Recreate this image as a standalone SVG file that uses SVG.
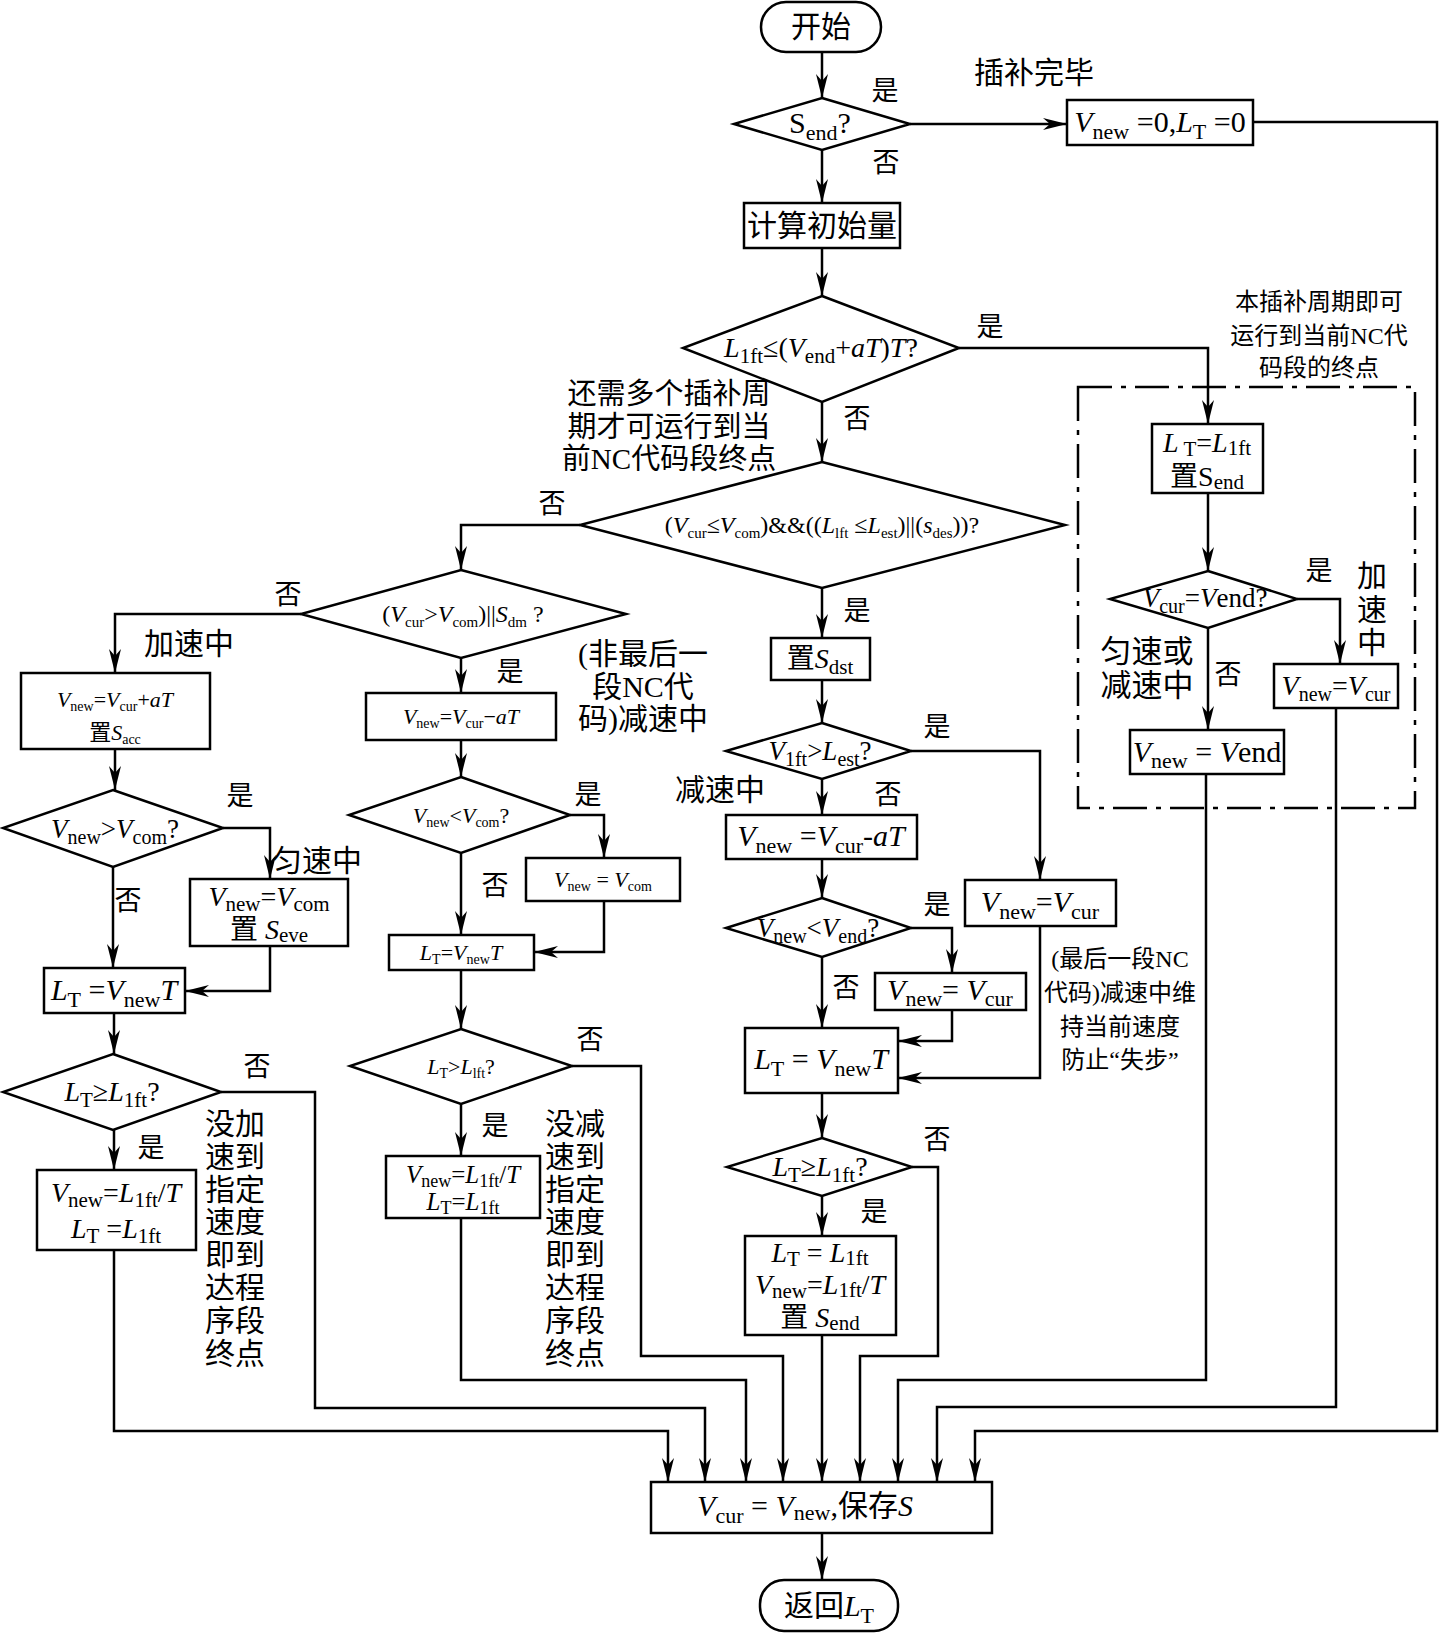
<svg xmlns="http://www.w3.org/2000/svg" width="1440" height="1633" viewBox="0 0 1440 1633">
<style>
.ln{fill:none;stroke:#000;stroke-width:2.5;marker-end:url(#a)}
.bx{fill:#fff;stroke:#000;stroke-width:2.5}
.dash{fill:none;stroke:#000;stroke-width:2.5;stroke-dasharray:34 9 5 9}
text{font-family:"Liberation Serif","Noto Sans CJK SC",serif;fill:#000;text-anchor:middle;font-size:30px}
.i{font-style:italic}
.lb{font-size:27px}
</style>
<defs>
<marker id="a" markerUnits="userSpaceOnUse" viewBox="0 0 24 12" markerWidth="24" markerHeight="12" refX="24" refY="6" orient="auto">
<path d="M0,0 L24,6 L0,12 L7,6 Z" fill="#000"/>
</marker>
</defs>
<rect width="1440" height="1633" fill="#fff"/>

<g id="connectors">
<path class="ln" d="M822,52 V98"/>
<path class="ln" d="M910,124 H1067"/>
<path class="ln" d="M1253,122 H1437 V1431 H975 V1482"/>
<path class="ln" d="M822,150 V203"/>
<path class="ln" d="M822,248 V296"/>
<path class="ln" d="M959,348 H1208 V424"/>
<path class="ln" d="M822,402 V462"/>
<path class="ln" d="M580,525 H461 V570"/>
<path class="ln" d="M822,588 V638"/>
<path class="ln" d="M301,614 H115 V673"/>
<path class="ln" d="M461,658 V693"/>
<path class="ln" d="M115,749 V790"/>
<path class="ln" d="M223,828 H270 V879"/>
<path class="ln" d="M113,867 V968"/>
<path class="ln" d="M270,946 V991 H185"/>
<path class="ln" d="M114,1013 V1054"/>
<path class="ln" d="M221,1092 H315 V1408 H705 V1482"/>
<path class="ln" d="M114,1130 V1170"/>
<path class="ln" d="M114,1250 V1431 H668 V1482"/>
<path class="ln" d="M461,740 V777"/>
<path class="ln" d="M570,815 H604 V858"/>
<path class="ln" d="M461,853 V935"/>
<path class="ln" d="M604,901 V952 H534"/>
<path class="ln" d="M461,970 V1029"/>
<path class="ln" d="M572,1066 H641 V1356 H783 V1482"/>
<path class="ln" d="M461,1104 V1156"/>
<path class="ln" d="M461,1218 V1380 H746 V1482"/>
<path class="ln" d="M822,680 V723"/>
<path class="ln" d="M911,751 H1040 V880"/>
<path class="ln" d="M822,779 V815"/>
<path class="ln" d="M822,859 V898"/>
<path class="ln" d="M911,928 H952 V973"/>
<path class="ln" d="M822,957 V1028"/>
<path class="ln" d="M952,1010 V1041 H898"/>
<path class="ln" d="M1040,926 V1078 H898"/>
<path class="ln" d="M822,1093 V1138"/>
<path class="ln" d="M912,1167 H938 V1356 H860 V1482"/>
<path class="ln" d="M822,1196 V1236"/>
<path class="ln" d="M822,1335 V1482"/>
<path class="ln" d="M1208,493 V571"/>
<path class="ln" d="M1297,599 H1340 V664"/>
<path class="ln" d="M1208,628 V730"/>
<path class="ln" d="M1206,774 V1380 H898 V1482"/>
<path class="ln" d="M1336,708 V1407 H937 V1482"/>
<path class="ln" d="M822,1533 V1580"/>
</g>

<g id="region-end">
<rect class="dash" x="1078" y="387" width="337" height="421"/>
<text x="1319" y="310" style="font-size:24px">本插补周期即可</text>
<text x="1319" y="344" style="font-size:24px">运行到当前NC代</text>
<text x="1319" y="376" style="font-size:24px">码段的终点</text>
</g>

<g id="n-start">
<rect class="bx" x="761" y="2" width="120" height="50" rx="25"/>
<text x="821" y="37">开始</text>
</g>

<g id="n-send">
<polygon class="bx" points="822,98 910,124 822,150 734,124"/>
<text x="820" y="133">S<tspan font-size="22" dy="7">end</tspan><tspan dy="-7">?</tspan></text>
<text class="lb" x="885" y="100">是</text>
<text class="lb" x="886" y="172">否</text>
</g>

<g id="n-done">
<rect class="bx" x="1067" y="100" width="186" height="45"/>
<text x="1160" y="132"><tspan class="i">V</tspan><tspan font-size="22" dy="7">new</tspan><tspan dy="-7"> =0,</tspan><tspan class="i">L</tspan><tspan font-size="22" dy="7">T</tspan><tspan dy="-7"> =0</tspan></text>
<text x="1034" y="83">插补完毕</text>
</g>

<g id="n-init">
<rect class="bx" x="744" y="203" width="156" height="45"/>
<text x="822" y="236">计算初始量</text>
</g>

<g id="n-d1">
<polygon class="bx" points="822,296 959,348 822,402 683,348"/>
<text x="821" y="357" style="font-size:28px"><tspan class="i">L</tspan><tspan font-size="21" dy="6">1ft</tspan><tspan dy="-6">≤(</tspan><tspan class="i">V</tspan><tspan font-size="21" dy="6">end</tspan><tspan dy="-6">+</tspan><tspan class="i">aT</tspan>)<tspan class="i">T</tspan>?</text>
<text class="lb" x="990" y="336">是</text>
<text class="lb" x="857" y="428">否</text>
<text x="669" y="404" style="font-size:29px">还需多个插补周</text>
<text x="669" y="437" style="font-size:29px">期才可运行到当</text>
<text x="669" y="469" style="font-size:29px">前NC代码段终点</text>
</g>

<g id="n-d2">
<polygon class="bx" points="822,462 1065,525 822,588 580,525"/>
<text x="822" y="533" style="font-size:24px">(<tspan class="i">V</tspan><tspan font-size="15" dy="5">cur</tspan><tspan dy="-5">≤</tspan><tspan class="i">V</tspan><tspan font-size="15" dy="5">com</tspan><tspan dy="-5">)&amp;&amp;((</tspan><tspan class="i">L</tspan><tspan font-size="15" dy="5">lft</tspan><tspan dy="-5"> ≤</tspan><tspan class="i">L</tspan><tspan font-size="15" dy="5">est</tspan><tspan dy="-5">)||(</tspan><tspan class="i">s</tspan><tspan font-size="15" dy="5">des</tspan><tspan dy="-5">))?</tspan></text>
<text class="lb" x="552" y="513">否</text>
<text class="lb" x="857" y="620">是</text>
</g>

<g id="n-sdst">
<rect class="bx" x="771" y="638" width="99" height="42"/>
<text x="820" y="668" style="font-size:28px">置<tspan class="i">S</tspan><tspan font-size="21" dy="6">dst</tspan></text>
</g>

<g id="n-d3">
<polygon class="bx" points="461,570 626,614 461,658 301,614"/>
<text x="463" y="622" style="font-size:24px">(<tspan class="i">V</tspan><tspan font-size="15" dy="5">cur</tspan><tspan dy="-5">&gt;</tspan><tspan class="i">V</tspan><tspan font-size="15" dy="5">com</tspan><tspan dy="-5">)||</tspan><tspan class="i">S</tspan><tspan font-size="15" dy="5">dm</tspan><tspan dy="-5"> ?</tspan></text>
<text class="lb" x="288" y="604">否</text>
<text x="189" y="654">加速中</text>
<text class="lb" x="510" y="681">是</text>
<text x="643" y="664">(非最后一</text>
<text x="643" y="697">段NC代</text>
<text x="643" y="729">码)减速中</text>
</g>

<g id="n-acc">
<rect class="bx" x="21" y="673" width="189" height="76"/>
<text x="115" y="707" style="font-size:22px"><tspan class="i">V</tspan><tspan font-size="14" dy="4">new</tspan><tspan dy="-4">=</tspan><tspan class="i">V</tspan><tspan font-size="14" dy="4">cur</tspan><tspan dy="-4">+</tspan><tspan class="i">aT</tspan></text>
<text x="115" y="740" style="font-size:22px">置<tspan class="i">S</tspan><tspan font-size="14" dy="4">acc</tspan></text>
</g>

<g id="n-dec">
<rect class="bx" x="366" y="693" width="190" height="47"/>
<text x="461" y="724" style="font-size:22px"><tspan class="i">V</tspan><tspan font-size="14" dy="4">new</tspan><tspan dy="-4">=</tspan><tspan class="i">V</tspan><tspan font-size="14" dy="4">cur</tspan><tspan dy="-4">−</tspan><tspan class="i">aT</tspan></text>
</g>

<g id="n-d4">
<polygon class="bx" points="113,790 223,828 113,867 3,828"/>
<text x="115" y="838" style="font-size:27px"><tspan class="i">V</tspan><tspan font-size="20" dy="6">new</tspan><tspan dy="-6">&gt;</tspan><tspan class="i">V</tspan><tspan font-size="20" dy="6">com</tspan><tspan dy="-6">?</tspan></text>
<text class="lb" x="240" y="805">是</text>
<text x="317" y="871">匀速中</text>
<text class="lb" x="128" y="910">否</text>
</g>

<g id="n-eve">
<rect class="bx" x="190" y="879" width="158" height="67"/>
<text x="269" y="906" style="font-size:28px"><tspan class="i">V</tspan><tspan font-size="21" dy="5">new</tspan><tspan dy="-5">=</tspan><tspan class="i">V</tspan><tspan font-size="21" dy="5">com</tspan></text>
<text x="269" y="939" style="font-size:28px">置 <tspan class="i">S</tspan><tspan font-size="21" dy="3">eve</tspan></text>
</g>

<g id="n-d5">
<polygon class="bx" points="461,777 570,815 461,853 349,815"/>
<text x="461" y="823" style="font-size:22px"><tspan class="i">V</tspan><tspan font-size="14" dy="4">new</tspan><tspan dy="-4">&lt;</tspan><tspan class="i">V</tspan><tspan font-size="14" dy="4">com</tspan><tspan dy="-4">?</tspan></text>
<text class="lb" x="588" y="804">是</text>
<text class="lb" x="495" y="895">否</text>
</g>

<g id="n-com">
<rect class="bx" x="526" y="858" width="154" height="43"/>
<text x="603" y="887" style="font-size:22px"><tspan class="i">V</tspan><tspan font-size="14" dy="4">new</tspan><tspan dy="-4"> = </tspan><tspan class="i">V</tspan><tspan font-size="14" dy="4">com</tspan></text>
</g>

<g id="n-lt-m">
<rect class="bx" x="389" y="935" width="145" height="35"/>
<text x="461" y="960" style="font-size:22px"><tspan class="i">L</tspan><tspan font-size="14" dy="4">T</tspan><tspan dy="-4">=</tspan><tspan class="i">V</tspan><tspan font-size="14" dy="4">new</tspan><tspan dy="-4" class="i">T</tspan></text>
</g>

<g id="n-lt-l">
<rect class="bx" x="44" y="968" width="141" height="45"/>
<text x="114" y="1000"><tspan class="i">L</tspan><tspan font-size="22" dy="7">T</tspan><tspan dy="-7"> =</tspan><tspan class="i">V</tspan><tspan font-size="22" dy="7">new</tspan><tspan dy="-7" class="i">T</tspan></text>
</g>

<g id="n-d6">
<polygon class="bx" points="113,1054 221,1092 113,1130 3,1092"/>
<text x="112" y="1101" style="font-size:28px"><tspan class="i">L</tspan><tspan font-size="21" dy="6">T</tspan><tspan dy="-6">≥</tspan><tspan class="i">L</tspan><tspan font-size="21" dy="6">1ft</tspan><tspan dy="-6">?</tspan></text>
<text class="lb" x="257" y="1076">否</text>
<text class="lb" x="151" y="1157">是</text>
</g>

<g id="n-end-l">
<rect class="bx" x="37" y="1170" width="159" height="80"/>
<text x="116" y="1202" style="font-size:28px"><tspan class="i">V</tspan><tspan font-size="21" dy="5">new</tspan><tspan dy="-5">=</tspan><tspan class="i">L</tspan><tspan font-size="21" dy="5">1ft</tspan><tspan dy="-5">/</tspan><tspan class="i">T</tspan></text>
<text x="116" y="1238" style="font-size:28px"><tspan class="i">L</tspan><tspan font-size="21" dy="5">T</tspan><tspan dy="-5"> =</tspan><tspan class="i">L</tspan><tspan font-size="21" dy="5">1ft</tspan></text>
<text x="235" y="1134"><tspan x="235">没加</tspan><tspan x="235" dy="32.8">速到</tspan><tspan x="235" dy="32.8">指定</tspan><tspan x="235" dy="32.8">速度</tspan><tspan x="235" dy="32.8">即到</tspan><tspan x="235" dy="32.8">达程</tspan><tspan x="235" dy="32.8">序段</tspan><tspan x="235" dy="32.8">终点</tspan></text>
</g>

<g id="n-d7">
<polygon class="bx" points="461,1029 572,1066 461,1104 350,1066"/>
<text x="461" y="1074" style="font-size:22px"><tspan class="i">L</tspan><tspan font-size="14" dy="4">T</tspan><tspan dy="-4">&gt;</tspan><tspan class="i">L</tspan><tspan font-size="14" dy="4">lft</tspan><tspan dy="-4">?</tspan></text>
<text class="lb" x="590" y="1049">否</text>
<text class="lb" x="495" y="1135">是</text>
</g>

<g id="n-end-m">
<rect class="bx" x="386" y="1156" width="154" height="62"/>
<text x="463" y="1183" style="font-size:25px"><tspan class="i">V</tspan><tspan font-size="18" dy="4">new</tspan><tspan dy="-4">=</tspan><tspan class="i">L</tspan><tspan font-size="18" dy="4">1ft</tspan><tspan dy="-4">/</tspan><tspan class="i">T</tspan></text>
<text x="463" y="1210" style="font-size:25px"><tspan class="i">L</tspan><tspan font-size="18" dy="4">T</tspan><tspan dy="-4">=</tspan><tspan class="i">L</tspan><tspan font-size="18" dy="4">1ft</tspan></text>
<text x="575" y="1134"><tspan x="575">没减</tspan><tspan x="575" dy="32.8">速到</tspan><tspan x="575" dy="32.8">指定</tspan><tspan x="575" dy="32.8">速度</tspan><tspan x="575" dy="32.8">即到</tspan><tspan x="575" dy="32.8">达程</tspan><tspan x="575" dy="32.8">序段</tspan><tspan x="575" dy="32.8">终点</tspan></text>
</g>

<g id="n-d8">
<polygon class="bx" points="822,723 911,751 822,779 726,751"/>
<text x="820" y="760" style="font-size:27px"><tspan class="i">V</tspan><tspan font-size="20" dy="6">1ft</tspan><tspan dy="-6">&gt;</tspan><tspan class="i">L</tspan><tspan font-size="20" dy="6">est</tspan><tspan dy="-6">?</tspan></text>
<text class="lb" x="937" y="736">是</text>
<text x="720" y="800">减速中</text>
<text class="lb" x="888" y="804">否</text>
</g>

<g id="n-decc">
<rect class="bx" x="726" y="815" width="191" height="44"/>
<text x="821" y="846"><tspan class="i">V</tspan><tspan font-size="22" dy="7">new</tspan><tspan dy="-7"> =</tspan><tspan class="i">V</tspan><tspan font-size="22" dy="7">cur</tspan><tspan dy="-7">-</tspan><tspan class="i">aT</tspan></text>
</g>

<g id="n-d9">
<polygon class="bx" points="822,898 911,928 822,957 726,928"/>
<text x="818" y="937" style="font-size:27px"><tspan class="i">V</tspan><tspan font-size="20" dy="6">new</tspan><tspan dy="-6">&lt;</tspan><tspan class="i">V</tspan><tspan font-size="20" dy="6">end</tspan><tspan dy="-6">?</tspan></text>
<text class="lb" x="937" y="914">是</text>
<text class="lb" x="846" y="997">否</text>
</g>

<g id="n-hold-s">
<rect class="bx" x="875" y="973" width="151" height="37"/>
<text x="950" y="1000"><tspan class="i">V</tspan><tspan font-size="22" dy="6">new</tspan><tspan dy="-6">= </tspan><tspan class="i">V</tspan><tspan font-size="22" dy="6">cur</tspan></text>
</g>

<g id="n-hold-r">
<rect class="bx" x="965" y="880" width="151" height="46"/>
<text x="1040" y="912"><tspan class="i">V</tspan><tspan font-size="22" dy="7">new</tspan><tspan dy="-7">=</tspan><tspan class="i">V</tspan><tspan font-size="22" dy="7">cur</tspan></text>
<text x="1120" y="967" style="font-size:24px">(最后一段NC</text>
<text x="1120" y="1001" style="font-size:24px">代码)减速中维</text>
<text x="1120" y="1035" style="font-size:24px">持当前速度</text>
<text x="1120" y="1068" style="font-size:24px">防止“失步”</text>
</g>

<g id="n-lt-c">
<rect class="bx" x="745" y="1028" width="153" height="65"/>
<text x="821" y="1069"><tspan class="i">L</tspan><tspan font-size="22" dy="7">T</tspan><tspan dy="-7"> = </tspan><tspan class="i">V</tspan><tspan font-size="22" dy="7">new</tspan><tspan dy="-7" class="i">T</tspan></text>
</g>

<g id="n-d10">
<polygon class="bx" points="822,1138 912,1167 822,1196 727,1167"/>
<text x="820" y="1176" style="font-size:28px"><tspan class="i">L</tspan><tspan font-size="21" dy="6">T</tspan><tspan dy="-6">≥</tspan><tspan class="i">L</tspan><tspan font-size="21" dy="6">1ft</tspan><tspan dy="-6">?</tspan></text>
<text class="lb" x="937" y="1149">否</text>
<text class="lb" x="874" y="1221">是</text>
</g>

<g id="n-end-c">
<rect class="bx" x="745" y="1236" width="151" height="99"/>
<text x="820" y="1262" style="font-size:28px"><tspan class="i">L</tspan><tspan font-size="21" dy="4">T</tspan><tspan dy="-4"> = </tspan><tspan class="i">L</tspan><tspan font-size="21" dy="3">1ft</tspan></text>
<text x="820" y="1294" style="font-size:28px"><tspan class="i">V</tspan><tspan font-size="21" dy="4">new</tspan><tspan dy="-4">=</tspan><tspan class="i">L</tspan><tspan font-size="21" dy="3">1ft</tspan><tspan dy="-3">/</tspan><tspan class="i">T</tspan></text>
<text x="820" y="1327" style="font-size:28px">置 <tspan class="i">S</tspan><tspan font-size="21" dy="3">end</tspan></text>
</g>

<g id="n-lt-r">
<rect class="bx" x="1152" y="424" width="111" height="69"/>
<text x="1207" y="452" style="font-size:28px"><tspan class="i">L</tspan><tspan font-size="21" dy="4"> T</tspan><tspan dy="-4">=</tspan><tspan class="i">L</tspan><tspan font-size="21" dy="3">1ft</tspan></text>
<text x="1207" y="486" style="font-size:28px">置S<tspan font-size="21" dy="3">end</tspan></text>
</g>

<g id="n-d11">
<polygon class="bx" points="1208,571 1297,599 1208,628 1110,599"/>
<text x="1205" y="607" style="font-size:27px"><tspan class="i">V</tspan><tspan font-size="20" dy="6">cur</tspan><tspan dy="-6">=</tspan><tspan class="i">V</tspan>end?</text>
<text class="lb" x="1319" y="580">是</text>
<text x="1372" y="586"><tspan x="1372">加</tspan><tspan x="1372" dy="34">速</tspan><tspan x="1372" dy="33">中</tspan></text>
<text x="1147" y="662" style="font-size:31px">匀速或</text>
<text x="1147" y="696" style="font-size:31px">减速中</text>
<text class="lb" x="1228" y="684">否</text>
</g>

<g id="n-vcur-r">
<rect class="bx" x="1274" y="664" width="124" height="44"/>
<text x="1336" y="695" style="font-size:28px"><tspan class="i">V</tspan><tspan font-size="20" dy="6">new</tspan><tspan dy="-6">=</tspan><tspan class="i">V</tspan><tspan font-size="20" dy="6">cur</tspan></text>
</g>

<g id="n-vend">
<rect class="bx" x="1130" y="730" width="154" height="44"/>
<text x="1207" y="762"><tspan class="i">V</tspan><tspan font-size="22" dy="6">new</tspan><tspan dy="-6"> = </tspan><tspan class="i">V</tspan>end</text>
</g>

<g id="n-vcur">
<rect class="bx" x="651" y="1482" width="341" height="51"/>
<text x="805" y="1516"><tspan class="i">V</tspan><tspan font-size="22" dy="7">cur</tspan><tspan dy="-7"> = </tspan><tspan class="i">V</tspan><tspan font-size="22" dy="4">new</tspan><tspan dy="-4">,保存</tspan><tspan class="i">S</tspan></text>
</g>

<g id="n-ret">
<rect class="bx" x="760" y="1580" width="138" height="51" rx="24"/>
<text x="829" y="1616">返回<tspan class="i">L</tspan><tspan font-size="22" dy="7">T</tspan></text>
</g>
</svg>
